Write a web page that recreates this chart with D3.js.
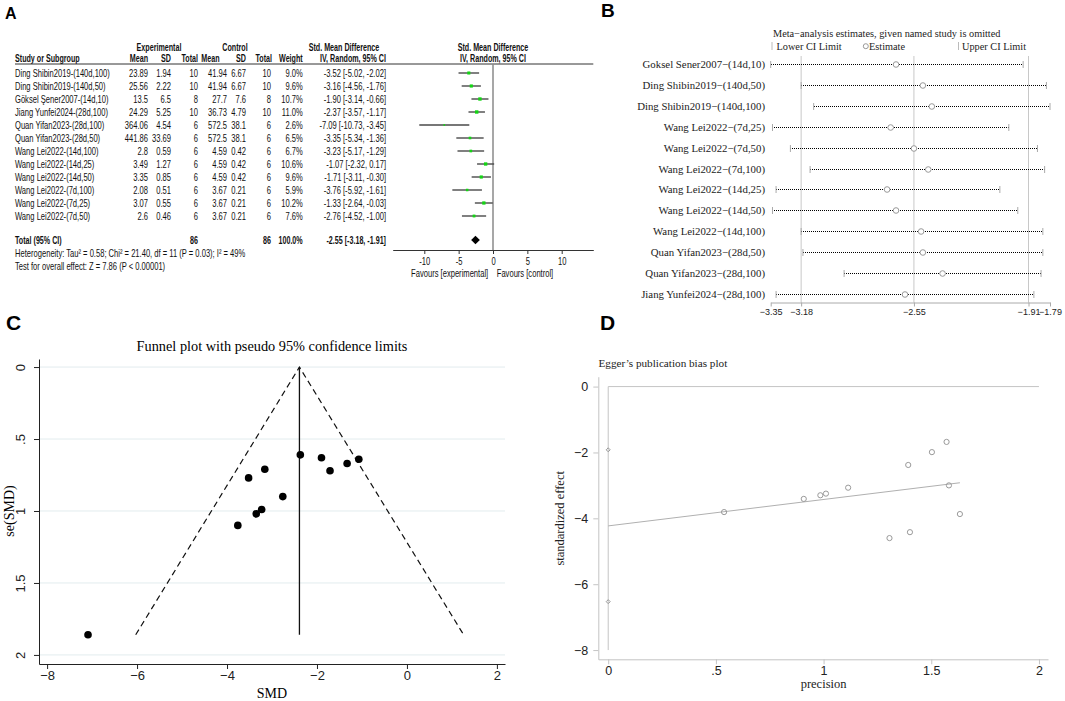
<!DOCTYPE html>
<html lang="en">
<head>
<meta charset="UTF-8">
<title>Meta-analysis: forest, influence, funnel and Egger plots</title>
<script src="https://d3js.org/d3.v7.min.js"></script>
<style>
    body { margin: 0; background: #fff; }
    svg { display: block; background: #fff; }
    .sans { font-family: "Liberation Sans", Arial, sans-serif; }
    .serif { font-family: "Liberation Serif", "Times New Roman", serif; }
    .tag { font-family: "Liberation Sans", Arial, sans-serif; font-weight: bold; }
</style>
</head>
<body>
<svg id="fig" width="1065" height="701"></svg>
<script>
// ---- A: RevMan forest table ----
const studies = ["Ding Shibin2019-(140d,100)", "Ding Shibin2019-(140d,50)", "Göksel Şener2007-(14d,10)",
    "Jiang Yunfei2024-(28d,100)", "Quan Yifan2023-(28d,100)", "Quan Yifan2023-(28d,50)",
    "Wang Lei2022-(14d,100)", "Wang Lei2022-(14d,25)", "Wang Lei2022-(14d,50)",
    "Wang Lei2022-(7d,100)", "Wang Lei2022-(7d,25)", "Wang Lei2022-(7d,50)"];
const expMean = [23.89, 25.56, 13.5, 24.29, 364.06, 441.86, 2.8, 3.49, 3.35, 2.08, 3.07, 2.6];
const expSD = [1.94, 2.22, 6.5, 5.25, 4.54, 33.69, 0.59, 1.27, 0.85, 0.51, 0.55, 0.46];
const expN = [10, 10, 8, 10, 6, 6, 6, 6, 6, 6, 6, 6];
const ctlMean = [41.94, 41.94, 27.7, 36.73, 572.5, 572.5, 4.59, 4.59, 4.59, 3.67, 3.67, 3.67];
const ctlSD = [6.67, 6.67, 7.6, 4.79, 38.1, 38.1, 0.42, 0.42, 0.42, 0.21, 0.21, 0.21];
const ctlN = [10, 10, 8, 10, 6, 6, 6, 6, 6, 6, 6, 6];
const weights = [9.0, 9.6, 10.7, 11.0, 2.6, 6.5, 6.7, 10.6, 9.6, 5.9, 10.2, 7.6];
const smd = [-3.52, -3.16, -1.90, -2.37, -7.09, -3.35, -3.23, -1.07, -1.71, -3.76, -1.33, -2.76];
const ciLow = [-5.02, -4.56, -3.14, -3.57, -10.73, -5.34, -5.17, -2.32, -3.11, -5.92, -2.64, -4.52];
const ciHigh = [-2.02, -1.76, -0.66, -1.17, -3.45, -1.36, -1.29, 0.17, -0.30, -1.61, -0.03, -1.00];
const pooled = [-2.55, -3.18, -1.91]; // estimate, lower, upper
const totals = [86, 86];
const forestTicks = [-10, -5, 0, 5, 10];

// ---- B: leave-one-out sensitivity ----
const looNames = ["Goksel Sener2007−(14d,10)", "Ding Shibin2019−(140d,50)", "Ding Shibin2019−(140d,100)",
    "Wang Lei2022−(7d,25)", "Wang Lei2022−(7d,50)", "Wang Lei2022−(7d,100)",
    "Wang Lei2022−(14d,25)", "Wang Lei2022−(14d,50)", "Wang Lei2022−(14d,100)",
    "Quan Yifan2023−(28d,50)", "Quan Yifan2023−(28d,100)", "Jiang Yunfei2024−(28d,100)"];
const looEst = [-2.65, -2.50, -2.45, -2.68, -2.55, -2.47, -2.70, -2.65, -2.51, -2.50, -2.39, -2.60];
const looLow = [-3.35, -3.18, -3.11, -3.34, -3.24, -3.13, -3.32, -3.34, -3.18, -3.17, -2.94, -3.32];
const looHigh = [-1.94, -1.81, -1.79, -2.02, -1.86, -1.82, -2.07, -1.97, -1.83, -1.83, -1.84, -1.88];
const looTicks = [-3.35, -3.18, -2.55, -1.91, -1.79];
const looRefs = [-3.18, -2.55, -1.91];

// ---- C: funnel plot (same study order as A) ----
const funnelSE = [0.77, 0.71, 0.63, 0.61, 1.86, 1.02, 0.99, 0.64, 0.72, 1.10, 0.67, 0.90];
const funnelCentre = -2.39;
const funnelSEmax = 1.86;
const funnelEdges = [-6.03, 1.26];
const funnelXTicks = [-8, -6, -4, -2, 0, 2];
const funnelYTicks = [0, 0.5, 1, 1.5, 2];

// ---- D: Egger plot (same study order as A) ----
const precision = [1.306, 1.401, 1.582, 1.633, 0.538, 0.985, 1.011, 1.571, 1.393, 0.908, 1.503, 1.114];
const stdEffect = [-4.60, -4.42, -3.00, -3.87, -3.81, -3.30, -3.25, -1.68, -2.38, -3.41, -1.99, -3.07];
const eggerLine = [[0, -4.23], [1.633, -2.92]];
const eggerInterceptCI = [-1.92, -6.53];
const eggerXTicks = [0, 0.5, 1, 1.5, 2];
const eggerYTicks = [0, -2, -4, -6, -8];

const svg = d3.select("#fig");
const stata = d => String(d).replace("0.", ".").replace("-", "−");

// panel tags
[["A", 5, 18.5, 16], ["B", 601, 17, 19], ["C", 6, 330, 21], ["D", 600, 330, 21]].forEach(([t, x, y, s]) =>
    svg.append("text").attr("class", "tag").attr("x", x).attr("y", y).attr("font-size", s).text(t));

// ================= A =================
const SX = 0.69;
const gA = svg.append("g").attr("class", "sans").attr("font-size", 11).attr("fill", "#111");
function tA(x, y, s, anchor, bold) {
    // RevMan output is a horizontally squeezed Arial
    return gA.append("text")
        .attr("transform", `translate(${x},${y}) scale(${bold ? SX - 0.04 : SX},1)`)
        .attr("text-anchor", anchor || "start")
        .attr("font-weight", bold ? "bold" : null)
        .text(s);
}
const f2 = v => v.toFixed(2);
const yA = d3.scalePoint().domain(studies).range([73, 216]);
const xF = d3.scaleLinear().domain([-14.6, 14.6]).range([392.7, 593.3]);
const sq = d3.scaleSqrt().domain([0, 11]).range([0, 3.4]);

tA(159, 51, "Experimental", "middle", true);
tA(235, 51, "Control", "middle", true);
tA(344, 51, "Std. Mean Difference", "middle", true);
tA(xF(0), 51, "Std. Mean Difference", "middle", true);
tA(15, 62, "Study or Subgroup", "start", true);
[["Mean", 148], ["SD", 171], ["Total", 198], ["Mean", 219.5], ["SD", 246], ["Total", 272], ["Weight", 302.7]]
    .forEach(([h, x]) => tA(x, 62, h, "end", true));
tA(353, 62, "IV, Random, 95% CI", "middle", true);
tA(xF(0), 62, "IV, Random, 95% CI", "middle", true);

gA.append("line").attr("x1", 15).attr("x2", 593.3).attr("y1", 64).attr("y2", 64)
    .attr("stroke", "#333").attr("stroke-width", 1);
gA.append("line").attr("x1", xF(0)).attr("x2", xF(0)).attr("y1", 64).attr("y2", 250)
    .attr("stroke", "#8a8a8a").attr("stroke-width", 1.5);

studies.forEach((s, i) => {
    const y = yA(s) + 3.8;
    tA(15, y, s);
    tA(148, y, String(expMean[i]), "end");
    tA(171, y, String(expSD[i]), "end");
    tA(198, y, String(expN[i]), "end");
    tA(227, y, String(ctlMean[i]), "end");
    tA(246, y, String(ctlSD[i]), "end");
    tA(271, y, String(ctlN[i]), "end");
    tA(302.7, y, weights[i].toFixed(1) + "%", "end");
    tA(386, y, `${f2(smd[i])} [${f2(ciLow[i])}, ${f2(ciHigh[i])}]`, "end");
});

gA.append("g").selectAll("line").data(studies).join("line")
    .attr("x1", (d, i) => xF(ciLow[i])).attr("x2", (d, i) => xF(ciHigh[i]))
    .attr("y1", d => yA(d)).attr("y2", d => yA(d))
    .attr("stroke", "#4a4a4a").attr("stroke-width", 1.4);
gA.append("g").selectAll("rect").data(studies).join("rect")
    .attr("x", (d, i) => xF(smd[i]) - sq(weights[i]) / 2)
    .attr("y", (d, i) => yA(d) - sq(weights[i]) / 2)
    .attr("width", (d, i) => sq(weights[i])).attr("height", (d, i) => sq(weights[i]))
    .attr("fill", "#14d414");

const yTot = 240;
tA(15, yTot + 3.8, "Total (95% CI)", "start", true);
tA(198, yTot + 3.8, String(totals[0]), "end", true);
tA(271, yTot + 3.8, String(totals[1]), "end", true);
tA(302.7, yTot + 3.8, "100.0%", "end", true);
tA(386, yTot + 3.8, `${f2(pooled[0])} [${f2(pooled[1])}, ${f2(pooled[2])}]`, "end", true);
gA.append("path")
    .attr("d", `M${xF(pooled[1])},${yTot} L${xF(pooled[0])},${yTot - 4.3} L${xF(pooled[2])},${yTot} L${xF(pooled[0])},${yTot + 4.3} Z`)
    .attr("fill", "#000");
tA(15, 257, "Heterogeneity: Tau² = 0.58; Chi² = 21.40, df = 11 (P = 0.03); I² = 49%");
tA(15, 270, "Test for overall effect: Z = 7.86 (P < 0.00001)");

const axA = gA.append("g").attr("transform", "translate(0,250)")
    .call(d3.axisBottom(xF).tickValues(forestTicks).tickSize(4).tickSizeOuter(0).tickFormat(d => String(d)));
axA.select(".domain").attr("stroke", "#333");
axA.selectAll(".tick line").attr("stroke", "#333");
axA.selectAll("text").attr("font-size", 11).attr("font-family", null).attr("fill", "#111")
    .attr("transform", `scale(${SX},1)`).attr("y", 7).attr("dy", "0.71em");
tA(xF(-0.7), 277, "Favours [experimental]", "end");
tA(xF(0.55), 277, "Favours [control]", "start");

// ================= B =================
const gB = svg.append("g").attr("class", "serif").attr("fill", "#222");
const xB = d3.scaleLinear().domain([-3.35, -1.79]).range([770.7, 1050]);
const yB = d3.scalePoint().domain(looNames).range([64, 294]);

gB.append("text").attr("x", 773).attr("y", 36.5).attr("font-size", 10.3)
    .text("Meta−analysis estimates, given named study is omitted");
gB.append("line").attr("x1", 772).attr("x2", 772).attr("y1", 42).attr("y2", 50).attr("stroke", "#bbb");
gB.append("text").attr("x", 776.5).attr("y", 50).attr("font-size", 10.3).text("Lower CI Limit");
gB.append("circle").attr("cx", 865.8).attr("cy", 46.2).attr("r", 2.5).attr("fill", "none").attr("stroke", "#999");
gB.append("text").attr("x", 869).attr("y", 50).attr("font-size", 10.3).text("Estimate");
gB.append("line").attr("x1", 958.5).attr("x2", 958.5).attr("y1", 42).attr("y2", 50).attr("stroke", "#bbb");
gB.append("text").attr("x", 962).attr("y", 50).attr("font-size", 10.3).text("Upper CI Limit");

gB.append("g").selectAll("line").data(looRefs).join("line")
    .attr("x1", d => xB(d)).attr("x2", d => xB(d)).attr("y1", 56).attr("y2", 302.5)
    .attr("stroke", "#c8c8c8").attr("stroke-width", 1);

// snap rows to the pixel grid so the dotted lines stay crisp
const rowsB = gB.append("g").selectAll("g").data(looNames).join("g")
    .attr("transform", d => `translate(0,${Math.round(yB(d)) + 0.5})`);
rowsB.append("line")
    .attr("x1", (d, i) => Math.round(xB(looLow[i]))).attr("x2", (d, i) => Math.round(xB(looHigh[i])))
    .attr("stroke", "#000").attr("stroke-width", 1).attr("stroke-dasharray", "1,1")
    .attr("shape-rendering", "crispEdges");
rowsB.append("line").attr("x1", (d, i) => xB(looLow[i])).attr("x2", (d, i) => xB(looLow[i]))
    .attr("y1", -3.5).attr("y2", 3.5).attr("stroke", "#aaa");
rowsB.append("line").attr("x1", (d, i) => xB(looHigh[i])).attr("x2", (d, i) => xB(looHigh[i]))
    .attr("y1", -3.5).attr("y2", 3.5).attr("stroke", "#aaa");
rowsB.append("circle").attr("cx", (d, i) => xB(looEst[i])).attr("r", 2.8)
    .attr("fill", "#fff").attr("stroke", "#999");
rowsB.append("text").attr("x", 765).attr("y", 3.6).attr("text-anchor", "end")
    .attr("font-size", 10.8).text(d => d);

const axB = gB.append("g").attr("transform", "translate(0,302.5)")
    .call(d3.axisBottom(xB).tickValues(looTicks).tickSize(4).tickSizeOuter(0)
        .tickFormat(d => d.toFixed(2).replace("-", "−")));
axB.select(".domain").attr("stroke", "#aaa");
axB.selectAll(".tick line").attr("stroke", "#aaa");
axB.selectAll("text").attr("font-size", 9).attr("font-family", null).attr("fill", "#222")
    .attr("y", 6).attr("dy", "0.71em");

// ================= C =================
const gC = svg.append("g").attr("class", "serif");
const xC = d3.scaleLinear().domain([-8.18, 2.18]).range([39, 505]);
const yC = d3.scaleLinear().domain([-0.056, 2.063]).range([359, 664]);

gC.append("text").attr("x", 272).attr("y", 351).attr("text-anchor", "middle")
    .attr("font-size", 14.3).text("Funnel plot with pseudo 95% confidence limits");
gC.append("g").selectAll("line").data(funnelYTicks).join("line")
    .attr("x1", 39).attr("x2", 505).attr("y1", d => yC(d)).attr("y2", d => yC(d))
    .attr("stroke", "#e2ecee").attr("stroke-width", 1);

const axCx = gC.append("g").attr("transform", "translate(0,664)")
    .call(d3.axisBottom(xC).tickValues(funnelXTicks).tickSize(5).tickSizeOuter(0).tickFormat(stata));
const axCy = gC.append("g").attr("transform", "translate(39,0)")
    .call(d3.axisLeft(yC).tickValues(funnelYTicks).tickSize(5).tickSizeOuter(0).tickFormat(stata));
[axCx, axCy].forEach(a => {
    a.select(".domain").attr("stroke", "#222");
    a.selectAll(".tick line").attr("stroke", "#222");
    a.selectAll("text").attr("font-size", 13).attr("font-family", null).attr("fill", "#222");
});
axCx.selectAll("text").attr("y", 7).attr("dy", "0.71em");
axCy.selectAll("text").attr("x", 0).attr("dy", 0).attr("text-anchor", "middle")
    .attr("transform", "translate(-14,0) rotate(-90)");
gC.append("text").attr("x", 272).attr("y", 698).attr("text-anchor", "middle").attr("font-size", 14).text("SMD");
gC.append("text").attr("transform", `translate(13.5,${yC(1)}) rotate(-90)`).attr("text-anchor", "middle")
    .attr("font-size", 14).text("se(SMD)");

gC.append("path")
    .attr("d", `M${xC(funnelEdges[0])},${yC(funnelSEmax)} L${xC(funnelCentre)},${yC(0)} L${xC(funnelEdges[1])},${yC(funnelSEmax)}`)
    .attr("fill", "none").attr("stroke", "#111").attr("stroke-width", 1.2).attr("stroke-dasharray", "6,4");
gC.append("line").attr("x1", xC(funnelCentre)).attr("x2", xC(funnelCentre))
    .attr("y1", yC(0)).attr("y2", yC(funnelSEmax)).attr("stroke", "#111").attr("stroke-width", 1.3);
gC.append("g").selectAll("circle").data(smd).join("circle")
    .attr("cx", d => xC(d)).attr("cy", (d, i) => yC(funnelSE[i])).attr("r", 3.8).attr("fill", "#000");

// ================= D =================
const gD = svg.append("g").attr("class", "serif");
const xD = d3.scaleLinear().domain([-0.046, 2.042]).range([598.3, 1048]);
const yD = d3.scaleLinear().domain([0.3, -8.28]).range([376.7, 659.3]);

gD.append("text").attr("x", 598.5).attr("y", 366.5).attr("font-size", 11.2).attr("fill", "#222")
    .text("Egger’s publication bias plot");

const axDx = gD.append("g").attr("transform", "translate(0,659.3)")
    .call(d3.axisBottom(xD).tickValues(eggerXTicks).tickSize(5).tickSizeOuter(0).tickFormat(stata));
const axDy = gD.append("g").attr("transform", "translate(598.3,0)")
    .call(d3.axisLeft(yD).tickValues(eggerYTicks).tickSize(5).tickSizeOuter(0).tickFormat(stata));
[axDx, axDy].forEach(a => {
    a.select(".domain").attr("stroke", "#c4c4c4");
    a.selectAll(".tick line").attr("stroke", "#c4c4c4");
    a.selectAll("text").attr("font-size", 12.5).attr("font-family", null).attr("fill", "#222");
});
axDx.selectAll("text").attr("y", 7).attr("dy", "0.71em");
axDy.selectAll("text").attr("x", -10);
gD.append("text").attr("x", xD(1)).attr("y", 688).attr("text-anchor", "middle").attr("font-size", 12.5)
    .attr("fill", "#222").text("precision");
gD.append("text").attr("transform", `translate(564,${yD(-4)}) rotate(-90)`).attr("text-anchor", "middle")
    .attr("font-size", 12.5).attr("fill", "#222").text("standardized effect");

gD.append("line").attr("x1", xD(0)).attr("x2", xD(2)).attr("y1", yD(0)).attr("y2", yD(0))
    .attr("stroke", "#c4c4c4");
gD.append("line").attr("x1", xD(0)).attr("x2", xD(0)).attr("y1", yD(0)).attr("y2", yD(-8))
    .attr("stroke", "#c4c4c4");
gD.append("line")
    .attr("x1", xD(eggerLine[0][0])).attr("y1", yD(eggerLine[0][1]))
    .attr("x2", xD(eggerLine[1][0])).attr("y2", yD(eggerLine[1][1]))
    .attr("stroke", "#b0b0b0").attr("stroke-width", 1);
gD.append("g").selectAll("path").data(eggerInterceptCI).join("path")
    .attr("d", d => `M${xD(0) - 2},${yD(d)} L${xD(0)},${yD(d) - 2} L${xD(0) + 2},${yD(d)} L${xD(0)},${yD(d) + 2} Z`)
    .attr("fill", "none").attr("stroke", "#999");
gD.append("g").selectAll("circle").data(precision).join("circle")
    .attr("cx", d => xD(d)).attr("cy", (d, i) => yD(stdEffect[i])).attr("r", 2.6)
    .attr("fill", "none").attr("stroke", "#9a9a9a").attr("stroke-width", 1);
</script>
</body>
</html>
